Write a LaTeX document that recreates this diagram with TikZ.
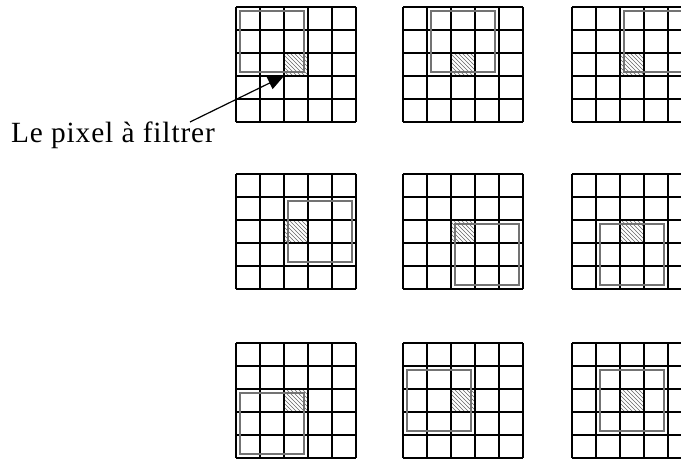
\documentclass[tikz,border=0pt]{standalone}
\usepackage{fontspec}
\setmainfont{Liberation Serif}
\usetikzlibrary{patterns,arrows.meta}
\tikzset{
  gridline/.style={line width=1.4pt, draw=black},
  windowbox/.style={draw=black!55, line width=2.2pt},
  pixelbox/.style={draw=black, line width=1.4pt, pattern=north west lines, pattern color=black!60,
    minimum width=18pt, minimum height=17.25pt, inner sep=0pt, outer sep=0pt},
  labeltext/.style={font=\fontsize{22pt}{26pt}\selectfont\addfontfeature{LetterSpace=3}, inner sep=0pt},
  arrowline/.style={line width=0.9pt, -{Triangle[length=12pt,width=10pt]}}
}
\begin{document}
\begin{tikzpicture}[x=0.75pt,y=-0.75pt]
\useasboundingbox (0,0) rectangle (681,463);
\clip (0,0) rectangle (681,463);
\foreach \gx/\gy/\wc/\wr/\n in {236/7/0/0/1, 403/7/1/0/2, 572/7/2/0/3,
  236/174/2/1/4, 403/174/2/2/5, 572/174/1/2/6,
  236/343/0/2/7, 403/343/0/1/8, 572/343/1/1/9}{
  \begin{scope}[shift={(\gx,\gy)}]
    \foreach \i in {0,...,5}{
      \draw[gridline] (24*\i,0) -- (24*\i,115);
      \draw[gridline] (0,23*\i) -- (120,23*\i);
    }
    \node[pixelbox] (p\n) at (60,57.5) {};
    \pgfmathsetmacro{\xa}{24*\wc+4}
    \pgfmathsetmacro{\ya}{23*\wr+4}
    \pgfmathsetmacro{\xb}{24*\wc+68}
    \pgfmathsetmacro{\yb}{23*\wr+65}
    \draw[windowbox] (\xa,\ya) rectangle (\xb,\yb);
  \end{scope}
}
\node[labeltext, anchor=base] (txt) at (113,143) {Le pixel à filtrer};
\coordinate (arrowstart) at (190,122);
\draw[arrowline] (arrowstart) -- (p1.south west);
\end{tikzpicture}
\end{document}
